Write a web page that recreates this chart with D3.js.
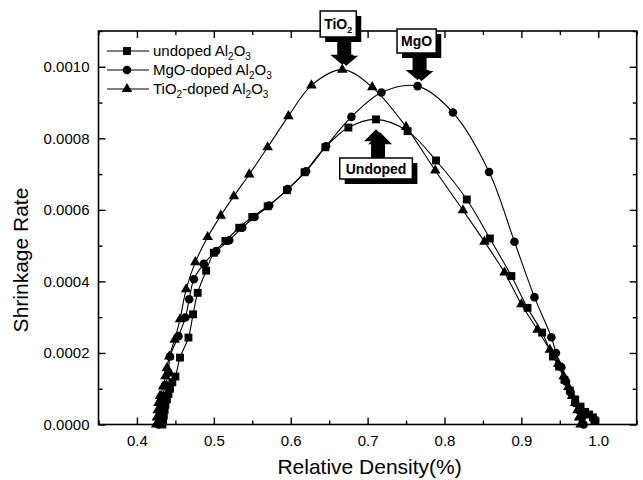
<!DOCTYPE html>
<html>
<head>
<meta charset="utf-8">
<script src="https://cdn.jsdelivr.net/npm/d3@7"></script>
<style>
    body { margin: 0; background: #fff; }
    svg { font-family: "Liberation Sans", Arial, sans-serif; }
</style>
</head>
<body>
<div class="chart"></div>
<script>
const FRAME_WIDTH = 643;
const FRAME_HEIGHT = 480;
const PLOT = {left: 98.5, right: 636.7, top: 31, bottom: 424.5};

// data
const undopedX = [0.433, 0.434, 0.435, 0.436, 0.437, 0.439, 0.441, 0.443, 0.446, 0.450, 0.456, 0.467, 0.473, 0.479,
    0.490, 0.500, 0.515, 0.533, 0.550, 0.570, 0.595, 0.618, 0.645, 0.675, 0.711, 0.752, 0.789, 0.829, 0.859,
    0.887, 0.908, 0.927, 0.941, 0.949, 0.956, 0.963, 0.970, 0.977, 0.983, 0.988, 0.993, 0.995];
const undopedY = [0, 0.000010, 0.000025, 0.000040, 0.000055, 0.000070, 0.000085, 0.000100, 0.000118, 0.000134, 0.000187, 0.000243, 0.000308, 0.000368,
    0.000430, 0.000480, 0.000513, 0.000550, 0.000580, 0.000610, 0.000655, 0.000705, 0.000775, 0.000830, 0.000853, 0.000820, 0.000738, 0.000629, 0.000520,
    0.000415, 0.000326, 0.000257, 0.000190, 0.000162, 0.000125, 0.000095, 0.000070, 0.000050, 0.000035, 0.000028, 0.000020, 0.000012];

const mgoX = [0.428, 0.429, 0.430, 0.431, 0.433, 0.437, 0.441, 0.443, 0.454, 0.463, 0.468, 0.474, 0.487, 0.503,
    0.520, 0.537, 0.553, 0.572, 0.596, 0.620, 0.646, 0.679, 0.718, 0.765, 0.811, 0.858, 0.891, 0.917, 0.939,
    0.945, 0.952, 0.958, 0.964, 0.970, 0.975, 0.979, 0.981];
const mgoY = [0, 0.000020, 0.000040, 0.000060, 0.000080, 0.000110, 0.000145, 0.000190, 0.000247, 0.000299, 0.000350, 0.000406, 0.000449, 0.000485,
    0.000515, 0.000550, 0.000580, 0.000612, 0.000658, 0.000708, 0.000778, 0.000860, 0.000928, 0.000946, 0.000872, 0.000706, 0.000511, 0.000356, 0.000244,
    0.000200, 0.000160, 0.000120, 0.000090, 0.000060, 0.000040, 0.000020, 0];

const tioX = [0.425, 0.426, 0.427, 0.428, 0.430, 0.434, 0.437, 0.439, 0.442, 0.449, 0.456, 0.464, 0.476, 0.492,
    0.509, 0.526, 0.546, 0.570, 0.597, 0.627, 0.667, 0.706, 0.750, 0.788, 0.824, 0.852, 0.878, 0.900, 0.921,
    0.937, 0.948, 0.955, 0.961, 0.966, 0.970, 0.973, 0.975, 0.977];
const tioY = [0, 0.000020, 0.000040, 0.000060, 0.000080, 0.000106, 0.000135, 0.000158, 0.000190, 0.000237, 0.000294, 0.000378, 0.000454, 0.000524,
    0.000584, 0.000638, 0.000699, 0.000775, 0.000862, 0.000948, 0.000992, 0.000943, 0.000832, 0.000710, 0.000599, 0.000511, 0.000425, 0.000336, 0.000265,
    0.000209, 0.000170, 0.000135, 0.000105, 0.000080, 0.000060, 0.000040, 0.000020, 0];

const xTicks = [0.4, 0.5, 0.6, 0.7, 0.8, 0.9, 1.0];
const xMinor = [0.35, 0.45, 0.55, 0.65, 0.75, 0.85, 0.95, 1.05];
const yTicks = [0, 0.0002, 0.0004, 0.0006, 0.0008, 0.0010];
const yMinor = [0.0001, 0.0003, 0.0005, 0.0007, 0.0009, 0.0011];

const seriesNames = ["undoped", "MgO-doped", "TiO", "-doped"];

const SVG = d3.select(".chart")
    .append("svg")
    .attr("width", FRAME_WIDTH)
    .attr("height", FRAME_HEIGHT);

const xScale = d3.scaleLinear().domain([0.35, 1.05]).range([PLOT.left, PLOT.right]);
const yScale = d3.scaleLinear().domain([0, 0.0011]).range([PLOT.bottom, PLOT.top]);

// axes (ticks point inward, mirrored on top/right)
function styleAxis(g) {
    g.select(".domain").remove();
    g.selectAll("line").attr("stroke", "#000").attr("stroke-width", 1.4);
    g.selectAll("text").attr("fill", "#000").attr("font-size", "15px")
        .attr("font-family", "'Liberation Sans', Arial, sans-serif");
}

SVG.append("g")
    .attr("transform", "translate(0," + PLOT.bottom + ")")
    .call(d3.axisBottom(xScale).tickValues(xTicks).tickSize(-7).tickPadding(11).tickFormat(d3.format(".1f")))
    .call(styleAxis);
SVG.append("g")
    .attr("transform", "translate(0," + PLOT.bottom + ")")
    .call(d3.axisBottom(xScale).tickValues(xMinor).tickSize(-4).tickFormat(""))
    .call(styleAxis);
SVG.append("g")
    .attr("transform", "translate(0," + PLOT.top + ")")
    .call(d3.axisTop(xScale).tickValues(xTicks).tickSize(-7).tickFormat(""))
    .call(styleAxis);
SVG.append("g")
    .attr("transform", "translate(0," + PLOT.top + ")")
    .call(d3.axisTop(xScale).tickValues(xMinor).tickSize(-4).tickFormat(""))
    .call(styleAxis);

SVG.append("g")
    .attr("transform", "translate(" + PLOT.left + ",0)")
    .call(d3.axisLeft(yScale).tickValues(yTicks).tickSize(-7).tickPadding(9).tickFormat(d3.format(".4f")))
    .call(styleAxis);
SVG.append("g")
    .attr("transform", "translate(" + PLOT.left + ",0)")
    .call(d3.axisLeft(yScale).tickValues(yMinor).tickSize(-4).tickFormat(""))
    .call(styleAxis);
SVG.append("g")
    .attr("transform", "translate(" + PLOT.right + ",0)")
    .call(d3.axisRight(yScale).tickValues(yTicks).tickSize(-7).tickFormat(""))
    .call(styleAxis);
SVG.append("g")
    .attr("transform", "translate(" + PLOT.right + ",0)")
    .call(d3.axisRight(yScale).tickValues(yMinor).tickSize(-4).tickFormat(""))
    .call(styleAxis);

SVG.append("rect")
    .attr("x", PLOT.left).attr("y", PLOT.top)
    .attr("width", PLOT.right - PLOT.left).attr("height", PLOT.bottom - PLOT.top)
    .attr("fill", "none").attr("stroke", "#000").attr("stroke-width", 1.6);

// axis titles
SVG.append("text")
    .attr("x", (PLOT.left + PLOT.right) / 2 + 2).attr("y", 474)
    .attr("text-anchor", "middle").attr("font-size", "21px")
    .text("Relative Density(%)");
SVG.append("text")
    .attr("transform", "translate(28,260) rotate(-90)")
    .attr("text-anchor", "middle").attr("font-size", "21px")
    .text("Shrinkage Rate");

// series
const SERIES = [
    {xs: undopedX, ys: undopedY, symbol: d3.symbolSquare, size: 62},
    {xs: mgoX, ys: mgoY, symbol: d3.symbolCircle, size: 58},
    {xs: tioX, ys: tioY, symbol: d3.symbolTriangle, size: 48}
];

const line = d3.line()
    .x((d) => xScale(d[0]))
    .y((d) => yScale(d[1]))
    .curve(d3.curveCatmullRom.alpha(0.5));

SERIES.forEach((s) => {
    const pts = s.xs.map((x, i) => [x, s.ys[i]]);
    SVG.append("path")
        .datum(pts)
        .attr("d", line)
        .attr("fill", "none")
        .attr("stroke", "#000")
        .attr("stroke-width", 1.1);
    SVG.selectAll(null)
        .data(pts)
        .enter().append("path")
        .attr("d", d3.symbol().type(s.symbol).size(s.size))
        .attr("transform", (d) => "translate(" + xScale(d[0]) + "," + yScale(d[1]) + ")")
        .attr("fill", "#000");
});

// legend
const LEGEND = SVG.append("g");
const legendRows = [
    {pre: "undoped Al", symbol: d3.symbolSquare, size: 62, tio: false},
    {pre: "MgO-doped Al", symbol: d3.symbolCircle, size: 58, tio: false},
    {pre: "TiO", symbol: d3.symbolTriangle, size: 48, tio: true}
];
legendRows.forEach((r, i) => {
    const yy = 51 + i * 19;
    LEGEND.append("line").attr("x1", 107).attr("x2", 149).attr("y1", yy).attr("y2", yy)
        .attr("stroke", "#000").attr("stroke-width", 1.1);
    LEGEND.append("path").attr("d", d3.symbol().type(r.symbol).size(r.size)())
        .attr("transform", "translate(127," + yy + ")").attr("fill", "#000");
    const t = LEGEND.append("text").attr("x", 153).attr("y", yy + 5).attr("font-size", "15px");
    if (r.tio) {
        t.append("tspan").text("TiO");
        t.append("tspan").attr("dy", 4).attr("font-size", "10px").text("2");
        t.append("tspan").attr("dy", -4).text("-doped Al");
    } else {
        t.append("tspan").text(r.pre);
    }
    t.append("tspan").attr("dy", 4).attr("font-size", "10px").text("2");
    t.append("tspan").attr("dy", -4).text("O");
    t.append("tspan").attr("dy", 4).attr("font-size", "10px").text("3");
});

// peak annotations: box with shadow + thick arrow
const notes = [
    {x: 0.667, y: 0.000992, label: "TiO", sub: "2", dir: "down", tipGap: 5, boxCx: -4, boxTop: 11, boxH: 26},
    {x: 0.765, y: 0.000946, label: "MgO", sub: "", dir: "down", tipGap: 6, boxCx: -1, boxTop: 29, boxH: 24},
    {x: 0.711, y: 0.000853, label: "Undoped", sub: "", dir: "up", tipGap: 10, boxCx: 0, boxTop: 158, boxH: 21}
];

notes.forEach((n) => {
    const px = xScale(n.x);
    const py = yScale(n.y);
    const G = SVG.append("g");
    const shadow = G.append("g");
    const front = G.append("g");

    // label text first to size the box
    const txt = front.append("text")
        .attr("x", px + n.boxCx).attr("y", n.boxTop + n.boxH / 2 + 5)
        .attr("text-anchor", "middle").attr("font-size", "14px").attr("font-weight", "bold");
    txt.append("tspan").text(n.label);
    if (n.sub) txt.append("tspan").attr("dy", 4).attr("font-size", "9px").text(n.sub);
    const bb = txt.node().getBBox();
    const padX = n.label === "Undoped" ? 6 : 4;
    const bx = bb.x - padX, bw = bb.width + padX * 2;

    let tipY, headBase, shaftEnd;
    if (n.dir === "down") {
        tipY = py - n.tipGap;
        headBase = tipY - 10;
        shaftEnd = n.boxTop + n.boxH;
    } else {
        tipY = py + n.tipGap;
        headBase = tipY + 12;
        shaftEnd = n.boxTop;
    }
    const sw = 5, hw = 12;
    const arrow = [[px - sw, shaftEnd], [px - sw, headBase], [px - hw, headBase], [px, tipY],
        [px + hw, headBase], [px + sw, headBase], [px + sw, shaftEnd]];

    shadow.append("rect").attr("x", bx + 5).attr("y", n.boxTop + 5).attr("width", bw).attr("height", n.boxH)
        .attr("fill", "#000");
    shadow.append("polygon").attr("points", arrow.map((p) => [p[0] + 4, p[1] + (n.dir === "down" ? 1 : 3)].join(",")).join(" "))
        .attr("fill", "#000");
    front.append("polygon").attr("points", arrow.map((p) => p.join(",")).join(" "))
        .attr("fill", "#000");
    front.insert("rect", "text").attr("x", bx).attr("y", n.boxTop).attr("width", bw).attr("height", n.boxH)
        .attr("fill", "#fff").attr("stroke", "#000").attr("stroke-width", 1.5);
});
</script>
</body>
</html>
